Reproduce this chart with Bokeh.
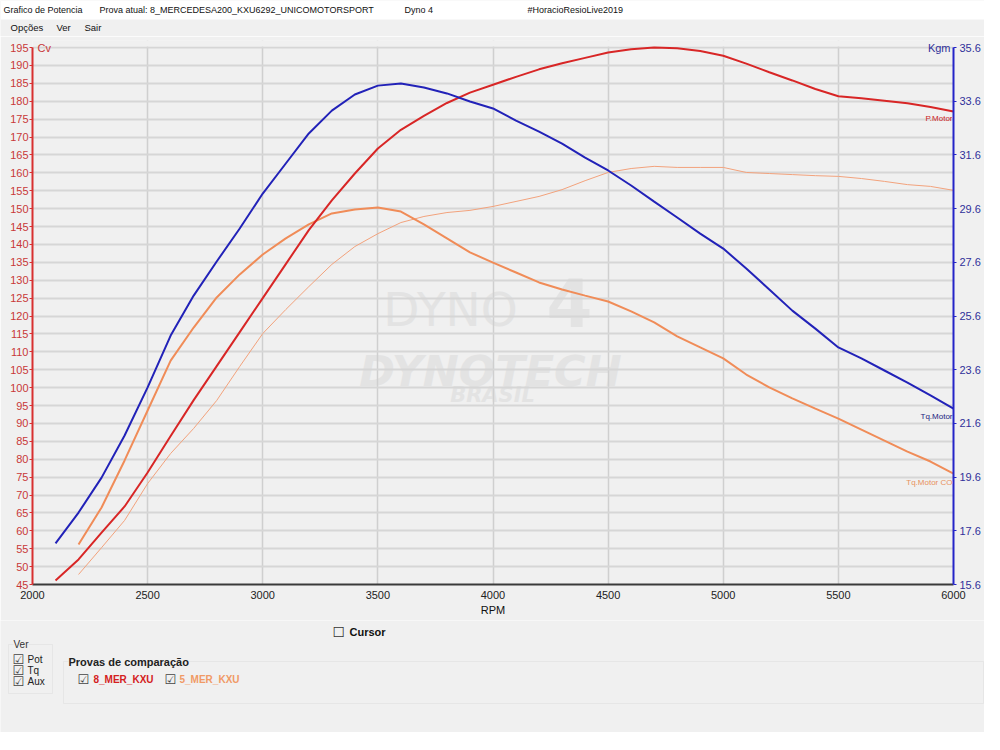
from bokeh.plotting import figure
from bokeh.layouts import column
from bokeh.models import Range1d, LinearAxis, FixedTicker, Label, BoxAnnotation
from bokeh.embed import file_html
from bokeh.resources import INLINE

# ---------------- data ----------------
rpm_atual = [2100, 2200, 2300, 2400, 2500, 2600, 2700, 2800, 2900, 3000,
             3100, 3200, 3300, 3400, 3500, 3600, 3700, 3800, 3900, 4000,
             4100, 4200, 4300, 4400, 4500, 4600, 4700, 4800, 4900, 5000,
             5100, 5200, 5300, 5400, 5500, 5600, 5700, 5800, 5900, 6000]
pot_atual = [46.1, 52.0, 59.5, 66.8, 76.3, 86.5, 96.5, 106.0, 115.5, 125.0,
             134.5, 144.0, 152.3, 159.8, 166.8, 172.0, 175.9, 179.5, 182.4, 184.6,
             186.8, 188.9, 190.6, 192.1, 193.6, 194.5, 195.0, 194.8, 194.0, 192.7,
             190.5, 188.1, 185.8, 183.4, 181.4, 180.8, 180.1, 179.4, 178.4, 177.1]
tq_atual = [17.13, 18.28, 19.58, 21.15, 22.94, 24.87, 26.36, 27.63, 28.86, 30.16,
            31.28, 32.40, 33.25, 33.85, 34.18, 34.26, 34.11, 33.89, 33.59, 33.33,
            32.88, 32.47, 32.02, 31.50, 31.02, 30.46, 29.86, 29.27, 28.67, 28.11,
            27.37, 26.59, 25.80, 25.13, 24.43, 24.02, 23.57, 23.12, 22.64, 22.15]

rpm_comp = [2200, 2300, 2400, 2500, 2600, 2700, 2800, 2900, 3000,
            3100, 3200, 3300, 3400, 3500, 3600, 3700, 3800, 3900, 4000,
            4100, 4200, 4300, 4400, 4500, 4600, 4700, 4800, 4900, 5000,
            5100, 5200, 5300, 5400, 5500, 5600, 5700, 5800, 5900, 6000]
pot_comp = [47.8, 55.3, 62.9, 73.2, 81.6, 88.6, 96.4, 105.9, 115.1,
            121.8, 128.2, 134.4, 139.4, 143.0, 146.1, 147.8, 148.9, 149.5, 150.6,
            152.0, 153.4, 155.3, 157.8, 160.1, 161.2, 161.8, 161.5, 161.5, 161.5,
            160.1, 159.8, 159.5, 159.2, 159.0, 158.4, 157.6, 156.7, 156.2, 155.1]
tq_comp = [17.09, 18.47, 20.22, 22.08, 23.94, 25.17, 26.29, 27.15, 27.89,
           28.49, 29.01, 29.42, 29.57, 29.64, 29.49, 29.01, 28.49, 27.97, 27.59,
           27.22, 26.85, 26.59, 26.36, 26.14, 25.77, 25.36, 24.84, 24.43, 24.02,
           23.42, 22.94, 22.53, 22.15, 21.78, 21.37, 20.96, 20.55, 20.18, 19.73]

cv_ticks = [45, 50, 55, 60, 65, 70, 75, 80, 85, 90, 95, 100, 105, 110, 115, 120,
            125, 130, 135, 140, 145, 150, 155, 160, 165, 170, 175, 180, 185, 190, 195]
kgm_ticks = [15.6, 17.6, 19.6, 21.6, 23.6, 25.6, 27.6, 29.6, 31.6, 33.6, 35.6]
rpm_ticks = [2000, 2500, 3000, 3500, 4000, 4500, 5000, 5500, 6000]

# ---------------- layout constants ----------------
BG = "#f0f0f0"
AXF = "Liberation Sans"
UIF = "Liberation Sans"
W = 984
HDR_H = 36          # header strip (title bar + menu)
TOP_B = 4           # main figure top border
FRAME_H = 544       # plot frame height (axis 45..195 occupies lower 537 px)
BOT_B = 36          # x axis labels
FTR_H = 112         # footer controls
EXTRA = 7           # frame pixels above the 195 / 35.6 line
CV_LO, CV_HI = 45, 195
KG_LO, KG_HI = 15.6, 35.6
AX_PX = FRAME_H - EXTRA
cv_top = CV_HI + EXTRA * (CV_HI - CV_LO) / AX_PX
kg_top = KG_HI + EXTRA * (KG_HI - KG_LO) / AX_PX


def no_align(fig):
    if "frame_align" in fig.properties():
        fig.frame_align = False


def panel_figure(height, y_top):
    f = figure(width=W, height=height, frame_width=W, frame_height=height,
               output_backend="svg", toolbar_location=None,
               x_range=Range1d(0, W), y_range=Range1d(y_top + height, y_top),
               x_axis_type=None, y_axis_type=None, min_border=0,
               min_border_left=0, min_border_right=0, min_border_top=0,
               min_border_bottom=0, background_fill_color=BG,
               border_fill_color=BG, outline_line_color=None)
    no_align(f)
    return f


def hlab(fig, X, Y, text, size="11px", color="#111111", font=UIF, style="normal",
         align="left", bg=None):
    l = Label(x=X, y=Y, text=text, text_font=font, text_font_size=size,
              text_color=color, text_font_style=style, text_align=align,
              text_baseline="middle")
    if bg is not None:
        l.background_fill_color = bg
    fig.add_layout(l)
    return l

# ---------------- header figure ----------------
hdr = panel_figure(HDR_H, 0)
hdr.add_layout(BoxAnnotation(left=0, right=W, top=0, bottom=19,
                             fill_color="white", fill_alpha=1.0, line_color=None))
hlab(hdr, 3, 9, "Grafico de Potencia", size="9px")
hlab(hdr, 99, 9, "Prova atual: 8_MERCEDESA200_KXU6292_UNICOMOTORSPORT", size="9px")
hlab(hdr, 404, 9, "Dyno 4", size="9px")
hlab(hdr, 527, 9, "#HoracioResioLive2019", size="9px")
hlab(hdr, 10, 27, "Opções", size="9.5px")
hlab(hdr, 56, 27, "Ver", size="9.5px")
hlab(hdr, 84, 27, "Sair", size="9.5px")

# ---------------- main figure ----------------
p = figure(width=W, height=TOP_B + FRAME_H + BOT_B, output_backend="svg",
           toolbar_location=None,
           x_range=Range1d(2000, 6000), y_range=Range1d(CV_LO, cv_top),
           min_border_left=32, min_border_right=31, min_border_top=TOP_B,
           min_border_bottom=BOT_B, background_fill_color=BG,
           border_fill_color=BG, outline_line_color=None)
no_align(p)
p.extra_y_ranges = {"kgm": Range1d(KG_LO, kg_top)}

ya = p.yaxis[0]
ya.ticker = FixedTicker(ticks=cv_ticks)
ya.bounds = (CV_LO, CV_HI)
ya.axis_line_color = "#d83030"
ya.axis_line_width = 2
ya.major_tick_line_color = "#d83030"
ya.major_tick_out = 3
ya.major_tick_in = 0
ya.minor_tick_line_color = None
ya.major_label_text_color = "#c83838"
ya.major_label_text_font = AXF
ya.major_label_text_font_size = "11px"
ya.major_label_standoff = 1

xa = p.xaxis[0]
xa.ticker = FixedTicker(ticks=rpm_ticks)
xa.axis_line_color = "#3a3a3a"
xa.axis_line_width = 2
xa.major_tick_line_color = None
xa.major_tick_out = 0
xa.major_tick_in = 0
xa.minor_tick_line_color = None
xa.major_label_text_color = "#222222"
xa.major_label_text_font = AXF
xa.major_label_text_font_size = "11px"
xa.major_label_standoff = 6
xa.axis_label = "RPM"
xa.axis_label_text_font = AXF
xa.axis_label_text_font_style = "normal"
xa.axis_label_text_font_size = "11px"
xa.axis_label_text_color = "#111111"
xa.axis_label_standoff = 2

ra = LinearAxis(y_range_name="kgm", ticker=FixedTicker(ticks=kgm_ticks),
                bounds=(KG_LO, KG_HI))
ra.axis_line_color = "#2424c8"
ra.axis_line_width = 2
ra.major_tick_line_color = "#2424c8"
ra.major_tick_out = 3
ra.major_tick_in = 0
ra.minor_tick_line_color = None
ra.major_label_text_color = "#30309a"
ra.major_label_text_font = AXF
ra.major_label_text_font_size = "11px"
ra.major_label_standoff = 3
p.add_layout(ra, "right")

p.ygrid.ticker = FixedTicker(ticks=cv_ticks)
p.ygrid.grid_line_color = "#d6d6d6"
p.ygrid.grid_line_width = 2
p.xgrid.ticker = FixedTicker(ticks=rpm_ticks)
p.xgrid.grid_line_color = "#cfcfcf"
p.xgrid.grid_line_width = 1.5

# cover the strip of frame above the 195 line (no grid there in the reference)
p.add_layout(BoxAnnotation(left=0, right=W, top=FRAME_H, bottom=AX_PX + 1,
                           left_units="screen", right_units="screen",
                           top_units="screen", bottom_units="screen",
                           fill_color=BG, fill_alpha=1.0, line_color=None,
                           level="underlay"))

# frame-relative helpers (picture px -> screen units of the frame)
FL, FB = 32, HDR_H + TOP_B + FRAME_H
def sx(X):
    return X - FL
def sy(Y):
    return FB - Y

def plab(X, Y, text, size="11px", color="#111111", font=AXF, style="normal",
         align="left", level="annotation"):
    l = Label(x=sx(X), y=sy(Y), x_units="screen", y_units="screen", text=text,
              text_font=font, text_font_size=size, text_color=color,
              text_font_style=style, text_align=align, text_baseline="middle",
              level=level)
    p.add_layout(l)
    return l

# watermark
WM = "#e3e3e3"
plab(450, 309, "DYNO", size="47px", color=WM, font="DejaVu Sans", align="center", level="image")
plab(569, 302, "4", size="66px", color=WM, font="DejaVu Sans", style="bold",
     align="center", level="image")
plab(490, 370, "DYNOTECH", size="43px", color=WM, font="DejaVu Sans",
     style="bold italic", align="center", level="image")
plab(492, 394, "BRASIL", size="21px", color=WM, font="DejaVu Sans",
     style="bold italic", align="center", level="image")

# curves
p.line(rpm_comp, pot_comp, line_color="#f2a27c", line_width=1)
p.line(rpm_comp, tq_comp, y_range_name="kgm", line_color="#f08c58", line_width=2)
p.line(rpm_atual, pot_atual, line_color="#d82626", line_width=2)
p.line(rpm_atual, tq_atual, y_range_name="kgm", line_color="#2222b8", line_width=2)

# end-of-curve labels (kept inside the frame)
p.add_layout(Label(x=rpm_atual[-1], y=pot_atual[-1], text="P.Motor",
                   text_font=AXF, text_font_size="8px", text_color="#cc1c1c",
                   text_align="right", text_baseline="top", x_offset=-1, y_offset=-2))
p.add_layout(Label(x=rpm_atual[-1], y=tq_atual[-1], y_range_name="kgm", text="Tq.Motor",
                   text_font=AXF, text_font_size="8px", text_color="#1c1c80",
                   text_align="right", text_baseline="top", x_offset=-1, y_offset=-3))
p.add_layout(Label(x=rpm_comp[-1], y=tq_comp[-1], y_range_name="kgm", text="Tq.Motor CO",
                   text_font=AXF, text_font_size="8px", text_color="#e8905c",
                   text_align="right", text_baseline="top", x_offset=-1, y_offset=-4))

# unit captions
plab(37, 47, "Cv", color="#c83838")
plab(950, 47, "Kgm", color="#30309a", align="right")

# ---------------- footer figure ----------------
Y0 = HDR_H + TOP_B + FRAME_H + BOT_B
ftr = panel_figure(FTR_H, Y0)

hlab(ftr, 332, 631, "☐", size="14px", color="#333333", font="DejaVu Sans")
hlab(ftr, 349, 631, "Cursor", size="11px", font=AXF, style="bold")

ftr.add_layout(BoxAnnotation(left=8, right=52, top=644, bottom=693,
                             fill_color=None, line_color="#d2d2d2", line_width=1))
hlab(ftr, 13, 644, "Ver", size="10px", color="#333333", bg=BG)
for yy, tt in [(659, "Pot"), (670, "Tq"), (681, "Aux")]:
    hlab(ftr, 12, yy, "☑", size="13px", color="#444444", font="DejaVu Sans")
    hlab(ftr, 27, yy, tt, size="10px", color="#222222")

ftr.add_layout(BoxAnnotation(left=63, right=983, top=661, bottom=703,
                             fill_color=None, line_color="#d2d2d2", line_width=1))
hlab(ftr, 68, 661, "Provas de comparação", size="11px", color="#222222", font=AXF,
     style="bold", bg=BG)
hlab(ftr, 77, 679, "☑", size="13px", color="#444444", font="DejaVu Sans")
hlab(ftr, 93, 679, "8_MER_KXU", size="10px", color="#d42020", font=AXF, style="bold")
hlab(ftr, 164, 679, "☑", size="13px", color="#444444", font="DejaVu Sans")
hlab(ftr, 179, 679, "5_MER_KXU", size="10px", color="#f09a66", font=AXF, style="bold")

layout = column(hdr, p, ftr, spacing=0)
open("out.html", "w").write(file_html(layout, INLINE))
